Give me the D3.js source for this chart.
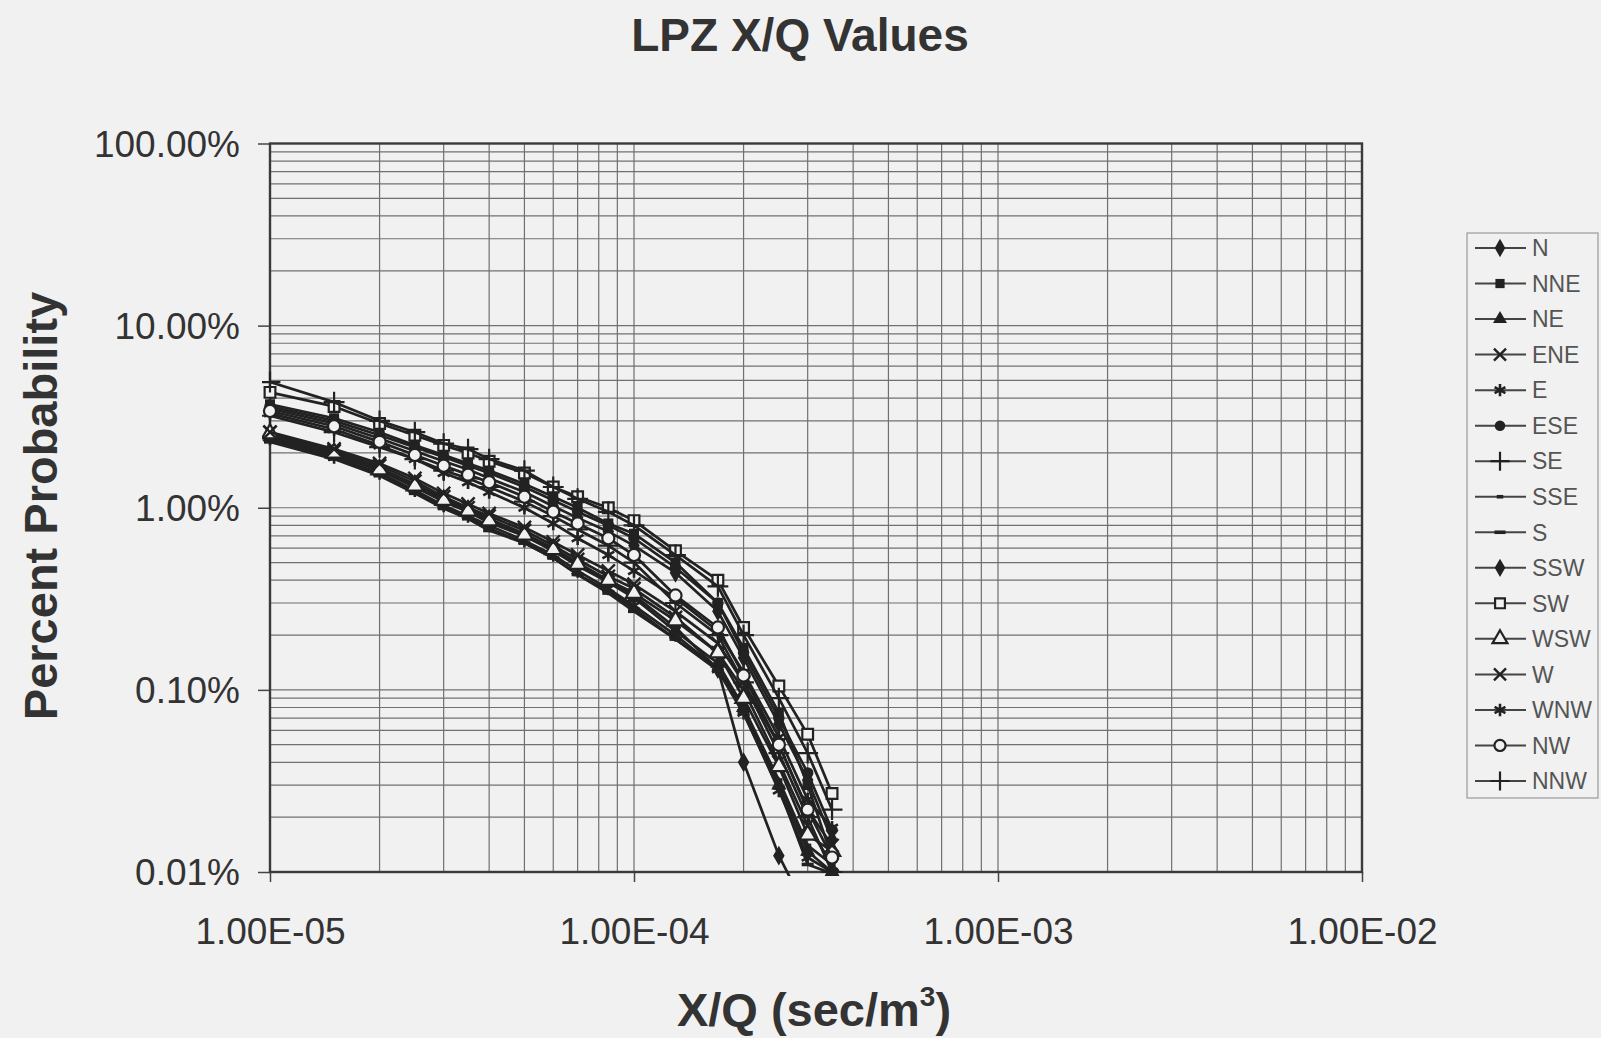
<!DOCTYPE html>
<html>
<head>
<meta charset="utf-8">
<script src="https://cdn.jsdelivr.net/npm/d3@7"></script>
<style>
  html, body { margin: 0; padding: 0; background: #f1f1f1; }
  svg { display: block; }
  text { font-family: "Liberation Sans", Arial, sans-serif; }
</style>
</head>
<body>
<svg id="chart" width="1601" height="1038"></svg>
<script>
// X/Q values (sec/m^3) at which each sector's exceedance probability is given
const xqValues = [1e-5, 1.5e-5, 2e-5, 2.5e-5, 3e-5, 3.5e-5, 4e-5, 5e-5, 6e-5, 7e-5, 8.5e-5,
                  1e-4, 1.3e-4, 1.7e-4, 2e-4, 2.5e-4, 3e-4, 3.5e-4];

const sectorNames = ["N", "NNE", "NE", "ENE", "E", "ESE", "SE", "SSE",
                     "S", "SSW", "SW", "WSW", "W", "WNW", "NW", "NNW"];

// Percent probability per sector (null = below the plotted range)
const probN   = [2.5, 2.0, 1.65, 1.35, 1.12, 0.98, 0.87, 0.72, 0.6, 0.5, 0.4, 0.33, 0.22, 0.13, 0.04, 0.0123, 0.006, null];
const probNNE = [3.7, 3.1, 2.6, 2.2, 1.95, 1.75, 1.6, 1.35, 1.15, 1.0, 0.82, 0.72, 0.5, 0.3, 0.17, 0.075, 0.03, 0.012];
const probNE  = [2.45, 1.95, 1.6, 1.3, 1.08, 0.95, 0.83, 0.7, 0.58, 0.48, 0.39, 0.32, 0.21, 0.14, 0.08, 0.03, 0.013, 0.01];
const probENE = [2.6, 2.05, 1.7, 1.4, 1.15, 1.0, 0.9, 0.75, 0.62, 0.52, 0.42, 0.36, 0.25, 0.16, 0.1, 0.04, 0.018, 0.011];
const probE   = [2.4, 1.9, 1.55, 1.25, 1.03, 0.9, 0.8, 0.66, 0.55, 0.45, 0.36, 0.29, 0.2, 0.13, 0.075, 0.028, 0.012, 0.01];
const probESE = [3.6, 3.0, 2.5, 2.15, 1.9, 1.7, 1.55, 1.3, 1.1, 0.95, 0.8, 0.68, 0.47, 0.3, 0.16, 0.07, 0.035, 0.017];
const probSE  = [3.2, 2.6, 2.15, 1.85, 1.6, 1.45, 1.3, 1.08, 0.9, 0.76, 0.62, 0.5, 0.3, 0.2, 0.11, 0.045, 0.02, 0.01];
const probSSE = [2.35, 1.88, 1.52, 1.22, 1.0, 0.88, 0.77, 0.64, 0.53, 0.43, 0.35, 0.28, 0.19, 0.13, 0.08, 0.032, 0.014, 0.011];
const probS   = [2.3, 1.85, 1.5, 1.2, 0.99, 0.87, 0.75, 0.64, 0.53, 0.43, 0.34, 0.27, 0.19, 0.128, 0.074, 0.029, 0.011, 0.0098];
const probSSW = [3.5, 2.9, 2.4, 2.05, 1.8, 1.62, 1.45, 1.22, 1.02, 0.88, 0.74, 0.62, 0.44, 0.27, 0.15, 0.065, 0.032, 0.015];
const probSW  = [4.3, 3.6, 2.9, 2.5, 2.2, 2.0, 1.8, 1.55, 1.3, 1.15, 1.0, 0.85, 0.58, 0.4, 0.22, 0.105, 0.057, 0.027];
const probWSW = [2.55, 2.0, 1.62, 1.32, 1.1, 0.96, 0.85, 0.71, 0.59, 0.49, 0.4, 0.34, 0.24, 0.16, 0.09, 0.038, 0.016, 0.013];
const probW   = [2.6, 2.1, 1.75, 1.45, 1.2, 1.05, 0.93, 0.78, 0.65, 0.55, 0.45, 0.38, 0.27, 0.18, 0.11, 0.05, 0.022, 0.014];
const probWNW = [3.3, 2.7, 2.2, 1.85, 1.55, 1.38, 1.22, 1.0, 0.82, 0.68, 0.55, 0.45, 0.32, 0.21, 0.125, 0.055, 0.025, 0.0175];
const probNW  = [3.4, 2.8, 2.3, 1.95, 1.7, 1.52, 1.38, 1.15, 0.95, 0.82, 0.68, 0.55, 0.33, 0.22, 0.12, 0.05, 0.022, 0.012];
const probNNW = [4.9, 3.8, 3.0, 2.6, 2.25, 2.1, 1.85, 1.6, 1.3, 1.12, 0.95, 0.8, 0.55, 0.37, 0.2, 0.09, 0.045, 0.022];

const sectorMarkers = ["diamond", "square", "triangle", "x", "asterisk", "circle", "plus", "dashShort",
                       "dashLong", "diamond", "squareOpen", "triangleOpen", "x", "asterisk", "circleOpen", "plus"];

const xTickValues = [1e-5, 1e-4, 1e-3, 1e-2];
const xTickLabels = ["1.00E-05", "1.00E-04", "1.00E-03", "1.00E-02"];
const yTickValues = [100, 10, 1, 0.1, 0.01];
const yTickLabels = ["100.00%", "10.00%", "1.00%", "0.10%", "0.01%"];

const sectorValues = [probN, probNNE, probNE, probENE, probE, probESE, probSE, probSSE,
                      probS, probSSW, probSW, probWSW, probW, probWNW, probNW, probNNW];

const series = sectorNames.map((name, i) => ({
  name,
  marker: sectorMarkers[i],
  points: xqValues.map((xq, j) => ({ xq, p: sectorValues[i][j] }))
}));

// ---- layout ----
const bg = "#f1f1f1";
const ink = "#222";
const plot = { left: 270, right: 1362, top: 143.5, bottom: 872 };

const svg = d3.select("#chart");
svg.append("rect").attr("width", 1601).attr("height", 1038).attr("fill", bg);

const x = d3.scaleLog().domain([1e-5, 1e-2]).range([plot.left, plot.right]);
const y = d3.scaleLog().domain([0.01, 100]).range([plot.bottom, plot.top]);

// gridlines at every 1..9 multiple of each decade
const grid = svg.append("g").attr("stroke", "#707070").attr("stroke-width", 1.2);
grid.selectAll("line.vx").data(x.ticks()).join("line")
  .attr("x1", d => x(d)).attr("x2", d => x(d))
  .attr("y1", plot.top).attr("y2", plot.bottom);
grid.selectAll("line.hy").data(y.ticks()).join("line")
  .attr("x1", plot.left).attr("x2", plot.right)
  .attr("y1", d => y(d)).attr("y2", d => y(d));

// axes: outward major ticks and labels
const xAxis = svg.append("g")
  .attr("transform", `translate(0,${plot.bottom})`)
  .call(d3.axisBottom(x).tickValues(xTickValues)
        .tickFormat((d, i) => xTickLabels[i]).tickSize(10).tickSizeOuter(0));
xAxis.select(".domain").remove();
xAxis.selectAll("line").attr("stroke", "#444").attr("stroke-width", 1.5);
xAxis.selectAll("text")
  .attr("y", 72).attr("dy", 0)
  .attr("fill", "#333").attr("font-size", 37);

const yAxis = svg.append("g")
  .attr("transform", `translate(${plot.left},0)`)
  .call(d3.axisLeft(y).tickValues(yTickValues)
        .tickFormat((d, i) => yTickLabels[i]).tickSize(12).tickPadding(18).tickSizeOuter(0));
yAxis.select(".domain").remove();
yAxis.selectAll("line").attr("stroke", "#444").attr("stroke-width", 1.5);
yAxis.selectAll("text")
  .attr("dy", "0.34em")
  .attr("fill", "#333").attr("font-size", 37);

// plot border
svg.append("rect")
  .attr("x", plot.left).attr("y", plot.top)
  .attr("width", plot.right - plot.left).attr("height", plot.bottom - plot.top)
  .attr("fill", "none").attr("stroke", "#3a3a3a").attr("stroke-width", 2.4);

// ---- markers ----
function drawMarker(g, type, s) {
  const sym = (t, area) => d3.symbol(t, area * s * s)();
  switch (type) {
    case "diamond":
      g.append("path").attr("d", sym(d3.symbolDiamond, 80)).attr("fill", ink); break;
    case "square":
      g.append("path").attr("d", sym(d3.symbolSquare, 70)).attr("fill", ink); break;
    case "triangle":
      g.append("path").attr("d", sym(d3.symbolTriangle, 70)).attr("fill", ink); break;
    case "circle":
      g.append("path").attr("d", sym(d3.symbolCircle, 72)).attr("fill", ink); break;
    case "x":
      g.append("path").attr("d", sym(d3.symbolX, 80)).attr("fill", "none")
        .attr("stroke", ink).attr("stroke-width", 2.4); break;
    case "asterisk":
      g.append("path").attr("d", sym(d3.symbolAsterisk, 90)).attr("fill", "none")
        .attr("stroke", ink).attr("stroke-width", 2.6); break;
    case "plus":
      g.append("path").attr("d", sym(d3.symbolPlus, 100)).attr("fill", "none")
        .attr("stroke", ink).attr("stroke-width", 2.2); break;
    case "dashShort":
      g.append("path").attr("d", `M${-3 * s},0H${3 * s}`).attr("stroke", ink).attr("stroke-width", 3.6); break;
    case "dashLong":
      g.append("path").attr("d", `M${-5 * s},0H${5 * s}`).attr("stroke", ink).attr("stroke-width", 3.6); break;
    case "squareOpen":
      g.append("path").attr("d", sym(d3.symbolSquare, 80)).attr("fill", bg)
        .attr("stroke", ink).attr("stroke-width", 2.2); break;
    case "triangleOpen":
      g.append("path").attr("d", sym(d3.symbolTriangle, 80)).attr("fill", bg)
        .attr("stroke", ink).attr("stroke-width", 2.2); break;
    case "circleOpen":
      g.append("path").attr("d", sym(d3.symbolCircle, 80)).attr("fill", bg)
        .attr("stroke", ink).attr("stroke-width", 2.2); break;
  }
}

// ---- series ----
svg.append("clipPath").attr("id", "plotClip")
  .append("rect").attr("x", plot.left - 8).attr("y", plot.top)
  .attr("width", plot.right - plot.left + 16).attr("height", plot.bottom - plot.top + 4);

const dataLayer = svg.append("g").attr("clip-path", "url(#plotClip)");
const line = d3.line()
  .defined(d => d.p != null)
  .x(d => x(d.xq)).y(d => y(d.p));

series.forEach(s => {
  const g = dataLayer.append("g");
  g.append("path").datum(s.points)
    .attr("d", line).attr("fill", "none")
    .attr("stroke", ink).attr("stroke-width", 2.7).attr("stroke-linejoin", "round");
  s.points.filter(d => d.p != null).forEach(d => {
    const m = g.append("g").attr("transform", `translate(${x(d.xq)},${y(d.p)})`);
    drawMarker(m, s.marker, 1.2);
  });
});

// ---- titles ----
svg.append("text")
  .attr("x", 800).attr("y", 51)
  .attr("text-anchor", "middle").attr("font-size", 46).attr("font-weight", "bold")
  .attr("fill", "#333").text("LPZ X/Q Values");

const xTitle = svg.append("text")
  .attr("x", 814).attr("y", 1026)
  .attr("text-anchor", "middle").attr("font-size", 47).attr("font-weight", "bold")
  .attr("fill", "#333");
xTitle.append("tspan").text("X/Q (sec/m");
xTitle.append("tspan").attr("font-size", 28).attr("dy", -20).text("3");
xTitle.append("tspan").attr("dy", 20).text(")");

svg.append("text")
  .attr("transform", "translate(57,506) rotate(-90)")
  .attr("text-anchor", "middle").attr("font-size", 47).attr("font-weight", "bold")
  .attr("fill", "#333").text("Percent Probability");

// ---- legend ----
const legend = svg.append("g");
legend.append("rect")
  .attr("x", 1467).attr("y", 233).attr("width", 131).attr("height", 565)
  .attr("fill", bg).attr("stroke", "#9a9a9a").attr("stroke-width", 1.2);

const legendRow = d3.scalePoint().domain(sectorNames).range([248, 781]);
series.forEach(s => {
  const row = legend.append("g").attr("transform", `translate(0,${legendRow(s.name)})`);
  row.append("line").attr("x1", 1475).attr("x2", 1526).attr("y1", 0).attr("y2", 0)
    .attr("stroke", "#444").attr("stroke-width", 2);
  const m = row.append("g").attr("transform", "translate(1500,0)");
  drawMarker(m, s.marker, 1.1);
  row.append("text").attr("x", 1532).attr("y", 0).attr("dy", "0.36em")
    .attr("font-size", 23).attr("fill", "#555").text(s.name);
});
</script>
</body>
</html>
